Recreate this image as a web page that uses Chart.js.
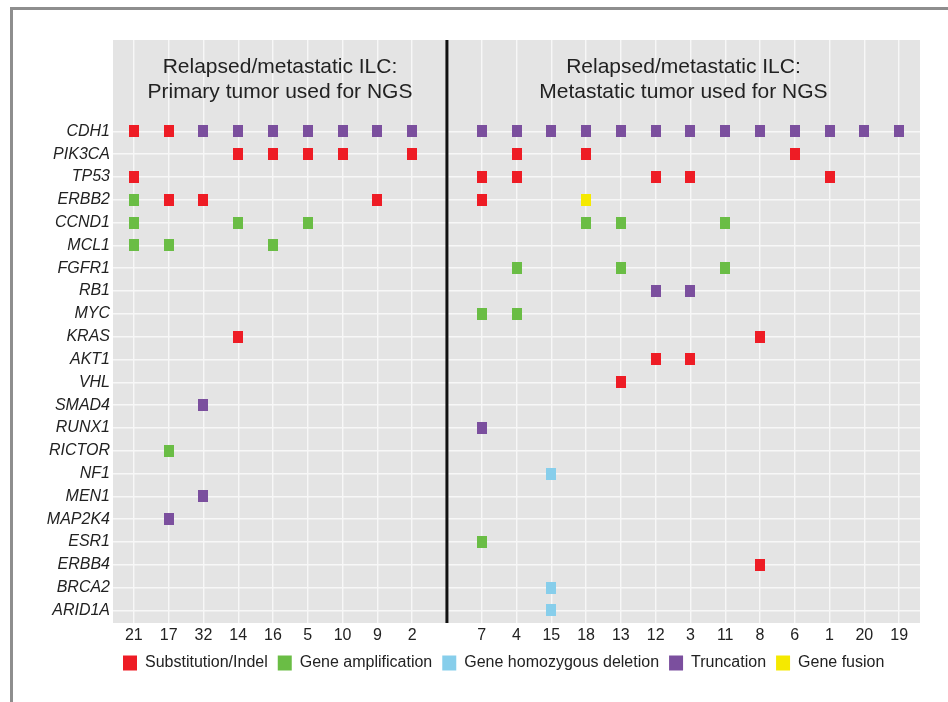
<!DOCTYPE html>
<html>
<head>
<meta charset="utf-8">
<script src="https://cdn.jsdelivr.net/npm/chart.js@4.4.1/dist/chart.umd.min.js"></script>
<style>
html, body { margin: 0; padding: 0; background: #fff; }
#wrap { position: relative; width: 948px; height: 702px; overflow: hidden; }
#frame { position: absolute; left: 10px; top: 7px; right: -6px; bottom: -6px;
  border-left: 3px solid #8e8e8e; border-top: 3px solid #8e8e8e; }
canvas { position: absolute; left: 0; top: 0; }
</style>
</head>
<body>
<div id="wrap"><div id="frame"></div><canvas id="oncoprint" width="948" height="702"></canvas></div>
<script>
// samples (the empty one is the gap between the two groups)
const samples = ['21','17','32','14','16','5','10','9','2','',
  '7','4','15','18','13','12','3','11','8','6','1','20','19'];
const genes = ['CDH1','PIK3CA','TP53','ERBB2','CCND1','MCL1','FGFR1','RB1','MYC','KRAS','AKT1',
  'VHL','SMAD4','RUNX1','RICTOR','NF1','MEN1','MAP2K4','ESR1','ERBB4','BRCA2','ARID1A'];

// [sample, gene]
const substitution = [
  ['21','CDH1'],['17','CDH1'],
  ['14','PIK3CA'],['16','PIK3CA'],['5','PIK3CA'],['10','PIK3CA'],['2','PIK3CA'],
  ['4','PIK3CA'],['18','PIK3CA'],['6','PIK3CA'],
  ['21','TP53'],['7','TP53'],['4','TP53'],['12','TP53'],['3','TP53'],['1','TP53'],
  ['17','ERBB2'],['32','ERBB2'],['9','ERBB2'],['7','ERBB2'],
  ['14','KRAS'],['8','KRAS'],
  ['12','AKT1'],['3','AKT1'],
  ['13','VHL'],
  ['8','ERBB4']
];
const amplification = [
  ['21','ERBB2'],
  ['21','CCND1'],['14','CCND1'],['5','CCND1'],['18','CCND1'],['13','CCND1'],['11','CCND1'],
  ['21','MCL1'],['17','MCL1'],['16','MCL1'],
  ['4','FGFR1'],['13','FGFR1'],['11','FGFR1'],
  ['7','MYC'],['4','MYC'],
  ['17','RICTOR'],
  ['7','ESR1']
];
const deletion = [['15','NF1'],['15','BRCA2'],['15','ARID1A']];
const truncation = [
  ['32','CDH1'],['14','CDH1'],['16','CDH1'],['5','CDH1'],['10','CDH1'],['9','CDH1'],['2','CDH1'],
  ['7','CDH1'],['4','CDH1'],['15','CDH1'],['18','CDH1'],['13','CDH1'],['12','CDH1'],['3','CDH1'],
  ['11','CDH1'],['8','CDH1'],['6','CDH1'],['1','CDH1'],['20','CDH1'],['19','CDH1'],
  ['12','RB1'],['3','RB1'],
  ['32','SMAD4'],['7','RUNX1'],['32','MEN1'],['17','MAP2K4']
];
const fusion = [['18','ERBB2']];

const gapIndex = samples.indexOf('');
const font = 'Liberation Sans, Arial, Helvetica, sans-serif';

function toPoints(list) {
  return list.map(([s, g]) => ({ x: samples.indexOf(s), y: genes.indexOf(g) }));
}

function marker(color) {
  let c = document.createElement('canvas');
  c.width = 10;
  c.height = 12;
  let g = c.getContext('2d');
  g.fillStyle = color;
  g.fillRect(0, 0, 10, 12);
  return c;
}

function serie(label, list, color) {
  return {
    label: label,
    data: toPoints(list),
    backgroundColor: color,
    borderWidth: 0,
    pointStyle: marker(color),
    pointRadius: 6
  };
}

// grey panel, black separator and the two group titles
const panel = {
  id: 'panel',
  beforeDraw(chart) {
    let { ctx, chartArea: a } = chart;
    ctx.save();
    ctx.fillStyle = '#e4e4e4';
    ctx.fillRect(a.left, a.top, a.right - a.left, a.bottom - a.top);
    ctx.restore();
  },
  beforeDatasetsDraw(chart) {
    let { ctx, chartArea: a, scales: { x, y } } = chart;
    ctx.save();
    let xs = x.getPixelForValue(gapIndex);
    ctx.strokeStyle = '#111';
    ctx.lineWidth = 3;
    ctx.beginPath();
    ctx.moveTo(xs, a.top);
    ctx.lineTo(xs, a.bottom);
    ctx.stroke();

    ctx.fillStyle = '#222';
    ctx.font = '21px ' + font;
    ctx.textAlign = 'center';
    ctx.textBaseline = 'middle';
    let leftX = x.getPixelForValue((x.min + gapIndex) / 2);
    let rightX = x.getPixelForValue((gapIndex + x.max) / 2);
    let y1 = y.getPixelForValue(-2.8), y2 = y.getPixelForValue(-1.72);
    ctx.fillText('Relapsed/metastatic ILC:', leftX, y1);
    ctx.fillText('Primary tumor used for NGS', leftX, y2);
    ctx.fillText('Relapsed/metastatic ILC:', rightX, y1);
    ctx.fillText('Metastatic tumor used for NGS', rightX, y2);
    ctx.restore();
  }
};

new Chart(document.getElementById('oncoprint'), {
  type: 'scatter',
  data: {
    datasets: [
      serie('Substitution/Indel', substitution, '#ee1c25'),
      serie('Gene amplification', amplification, '#6abd45'),
      serie('Gene homozygous deletion', deletion, '#87ceeb'),
      serie('Truncation', truncation, '#7b4f9e'),
      serie('Gene fusion', fusion, '#f5e900')
    ]
  },
  options: {
    responsive: false,
    animation: false,
    events: [],
    layout: { padding: { left: 0, right: 28, top: 40, bottom: 21 } },
    plugins: {
      legend: {
        position: 'bottom',
        fullSize: false,
        align: 'start',
        labels: {
          boxWidth: 14,
          boxHeight: 15,
          padding: 10,
          color: '#222',
          font: { family: font, size: 16 }
        }
      },
      tooltip: { enabled: false }
    },
    scales: {
      x: {
        type: 'linear',
        min: -0.6,
        max: samples.length - 1 + 0.6,
        afterBuildTicks: (scale) => { scale.ticks = samples.map((s, i) => ({ value: i })); },
        afterFit: (scale) => { scale.height = 22; },
        ticks: {
          autoSkip: false,
          maxRotation: 0,
          padding: 3,
          color: '#222',
          font: { family: font, size: 16 },
          callback: (v) => samples[v]
        },
        grid: { color: '#f7f7f7', lineWidth: 1.4, drawTicks: false },
        border: { display: false }
      },
      y: {
        type: 'linear',
        reverse: true,
        min: -4,
        max: genes.length - 1 + 0.55,
        afterBuildTicks: (scale) => { scale.ticks = genes.map((g, i) => ({ value: i })); },
        afterFit: (scale) => { scale.width = 113; },
        ticks: {
          autoSkip: false,
          padding: 3,
          color: '#222',
          font: { family: font, size: 16, style: 'italic' },
          callback: (v) => genes[v]
        },
        grid: { color: '#f7f7f7', lineWidth: 1.4, drawTicks: false },
        border: { display: false }
      }
    }
  },
  plugins: [panel]
});
</script>
</body>
</html>
